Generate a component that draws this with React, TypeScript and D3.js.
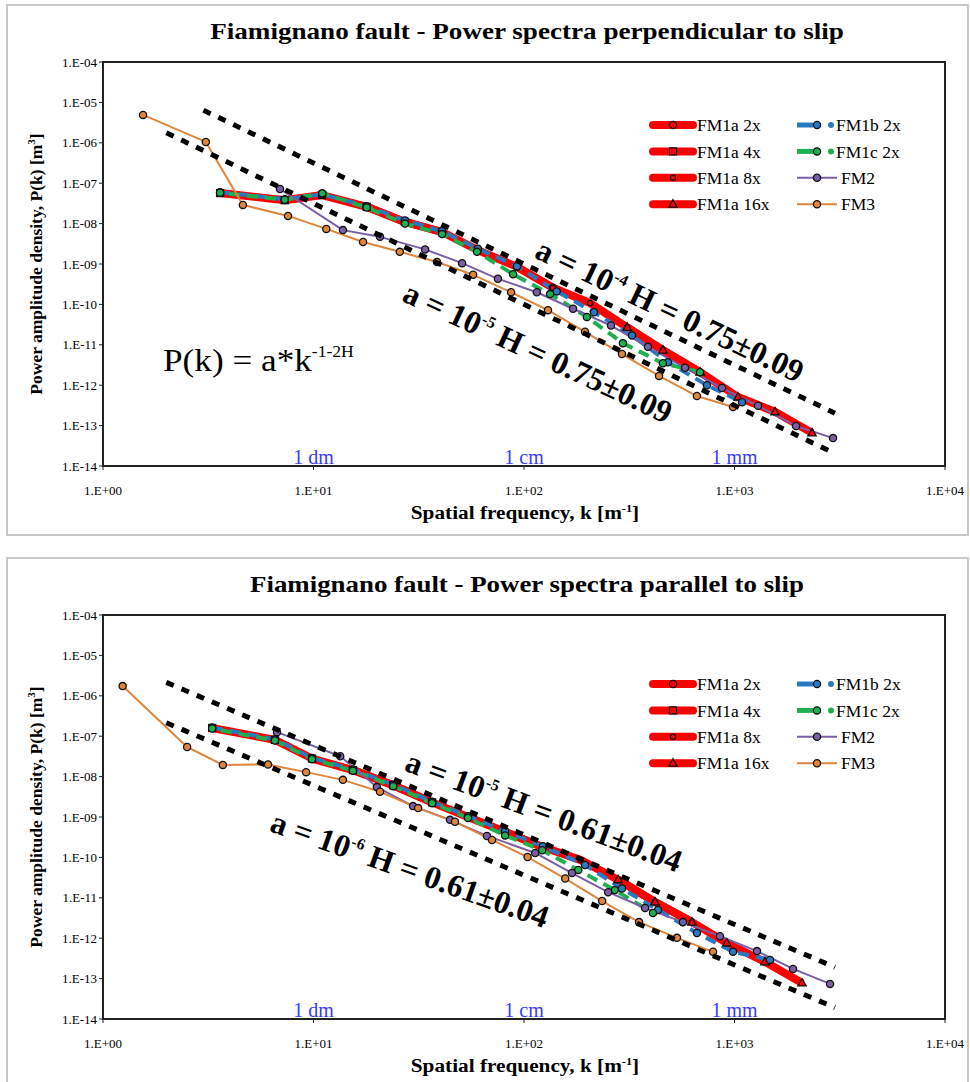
import React from 'react'
import * as d3 from 'd3'

// ---- perpendicular to slip ----
const perpFM1a4xK = [3.6, 7.3, 11.0, 17.9, 27.2, 40.8]
const perpFM1a4xP = [5.7e-8, 3.8e-8, 5.1e-8, 2.6e-8, 1.1e-8, 6.2e-9]
const perpFM1a2xK = [17.9, 27.2, 40.8, 60.4, 92.6, 137]
const perpFM1a2xP = [2.6e-8, 1.1e-8, 6.2e-9, 2.2e-9, 8.5e-10, 2.6e-10]
const perpFM1a8xK = [92.6, 137, 206, 309, 457, 686]
const perpFM1a8xP = [8.5e-10, 2.6e-10, 1.08e-10, 2.7e-11, 7.4e-12, 2.1e-12]
const perpFM1a16xK = [309, 457, 686, 1040, 1557, 2335]
const perpFM1a16xP = [2.7e-11, 7.4e-12, 2.1e-12, 5.1e-13, 2.2e-13, 6.6e-14]
const perpFM1bK = [3.6, 7.3, 11.0, 17.9, 27.2, 40.8, 60.4, 92.6, 143, 215, 326, 483, 740, 1086]
const perpFM1bP = [6.0e-8, 4.0e-8, 5.3e-8, 2.7e-8, 1.2e-8, 6.5e-9, 2.4e-9, 8.8e-10, 2.1e-10, 6.4e-11, 1.7e-11, 3.7e-12, 1.0e-12, 3.8e-13]
const perpFM1cK = [3.6, 7.3, 11.0, 17.9, 27.2, 40.8, 59.8, 88.7, 133, 199, 295, 457, 686]
const perpFM1cP = [5.8e-8, 3.9e-8, 5.6e-8, 2.5e-8, 1.0e-8, 5.5e-9, 2.0e-9, 5.6e-10, 1.8e-10, 4.9e-11, 1.1e-11, 3.5e-12, 2.1e-12]
const perpFM2K = [6.93, 13.8, 20.7, 33.9, 50.8, 75.2, 115, 171, 259, 388, 582, 872, 1294, 1961, 2938]
const perpFM2P = [7.2e-8, 6.9e-9, 4.7e-9, 2.3e-9, 1.05e-9, 4.3e-10, 2.0e-10, 7.8e-11, 3.0e-11, 8.9e-12, 2.7e-12, 8.5e-13, 3.1e-13, 9.8e-14, 4.9e-14]
const perpFM3K = [1.55, 3.08, 4.62, 7.57, 11.5, 17.2, 25.7, 38.6, 57.3, 86.8, 130, 195, 292, 438, 663, 984]
const perpFM3P = [4.9e-6, 1.05e-6, 2.9e-8, 1.55e-8, 7.4e-9, 3.5e-9, 2.0e-9, 1.12e-9, 5.4e-10, 2.0e-10, 7.2e-11, 2.1e-11, 5.9e-12, 1.7e-12, 5.4e-13, 2.9e-13]

// ---- parallel to slip ----
const parFM1a4xK = [3.30, 6.56, 9.84, 15.4, 23.9, 36.6]
const parFM1a4xP = [1.6e-7, 8.1e-8, 2.8e-8, 1.45e-8, 6.1e-9, 2.3e-9]
const parFM1a2xK = [15.4, 23.9, 36.6, 54.2, 81.3, 123]
const parFM1a2xP = [1.45e-8, 6.1e-9, 2.3e-9, 1.0e-9, 4.3e-10, 1.8e-10]
const parFM1a8xK = [81.3, 123, 185, 280, 419, 628]
const parFM1a8xP = [4.3e-10, 1.8e-10, 8.7e-11, 2.8e-11, 7.9e-12, 2.5e-12]
const parFM1a16xK = [280, 419, 628, 920, 1396, 2093]
const parFM1a16xP = [2.8e-11, 7.9e-12, 2.5e-12, 7.6e-13, 2.6e-13, 7.8e-14]
const parFM1bK = [3.30, 6.56, 9.84, 15.4, 23.9, 36.6, 54.2, 81.3, 123, 195, 292, 433, 663, 984, 1475]
const parFM1bP = [1.65e-7, 8.4e-8, 2.9e-8, 1.5e-8, 6.3e-9, 2.4e-9, 1.05e-9, 4.5e-10, 1.9e-10, 6.5e-11, 1.7e-11, 5.0e-12, 1.35e-12, 4.6e-13, 2.9e-13]
const parFM1cK = [3.30, 6.56, 9.84, 15.4, 23.9, 36.6, 54.2, 81.3, 122, 181, 270, 410]
const parFM1cP = [1.55e-7, 7.8e-8, 2.7e-8, 1.4e-8, 5.8e-9, 2.2e-9, 9.5e-10, 3.5e-10, 1.5e-10, 4.9e-11, 1.55e-11, 4.2e-12]
const parFM2K = [6.71, 13.4, 20.0, 29.7, 44.5, 66.7, 113, 169, 251, 376, 569, 853, 1279, 1897, 2844]
const parFM2P = [1.26e-7, 3.2e-8, 5.5e-9, 1.86e-9, 8.5e-10, 3.4e-10, 1.29e-10, 4.1e-11, 1.38e-11, 5.6e-12, 2.5e-12, 1.12e-12, 4.8e-13, 1.74e-13, 7.4e-14]
const parFM3K = [1.24, 2.51, 3.71, 6.08, 9.22, 13.8, 20.7, 31.4, 47.0, 70.5, 104, 157, 235, 352, 533, 791]
const parFM3P = [1.74e-6, 5.4e-8, 1.95e-8, 2.0e-8, 1.29e-8, 8.3e-9, 4.2e-9, 1.66e-9, 7.6e-10, 2.7e-10, 1.02e-10, 3.0e-11, 8.3e-12, 2.5e-12, 1.02e-12, 4.6e-13]

// fits P = a * k^(-1-2H): [a, H, kStart, kEnd]
const perpFits = [[1e-4, 0.75, 3, 3000], [1e-5, 0.75, 2, 3000]]
const parFits = [[1e-5, 0.61, 2, 3000], [1e-6, 0.61, 2, 3000]]

const xTicks = [1, 10, 100, 1000, 10000]
const xTickLabels = ['1.E+00', '1.E+01', '1.E+02', '1.E+03', '1.E+04']
const yTicks = [1e-4, 1e-5, 1e-6, 1e-7, 1e-8, 1e-9, 1e-10, 1e-11, 1e-12, 1e-13, 1e-14]
const yTickLabels = ['1.E-04', '1.E-05', '1.E-06', '1.E-07', '1.E-08', '1.E-09', '1.E-10', '1.E-11', '1.E-12', '1.E-13', '1.E-14']
const scaleLabels = [['1 dm', 10], ['1 cm', 100], ['1 mm', 1000]]

const RED = '#ff0000'
const BLUE = '#2a78c2'
const GREEN = '#1eb050'
const PURPLE = '#7a5fa6'
const ORANGE = '#e0863a'
const serif = { fontFamily: "'Liberation Serif', serif" }

const zip = (k, p) => k.map((v, i) => [v, p[i]])

const Marker = ({ shape, x, y, fill }) => {
    if (shape === 'square') return <rect x={x - 3.5} y={y - 3.5} width={7} height={7} fill={fill} stroke="#111" strokeWidth={1.3} />
    if (shape === 'triangle') return <path d={`M${x},${y - 4.5}L${x + 4.2},${y + 3}L${x - 4.2},${y + 3}Z`} fill={fill} stroke="#111" strokeWidth={1.3} />
    if (shape === 'small') return <circle cx={x} cy={y} r={2.6} fill={fill} stroke="#111" strokeWidth={1.2} />
    return <circle cx={x} cy={y} r={3.6} fill={fill} stroke="#111" strokeWidth={1.3} />
}

const Chart = ({ top, title, titleScale, legendTop, series, fits, labels }) => {
    const left = 103, right = 945
    const plotTop = top + 54, plotBottom = top + 458
    const x = d3.scaleLog().domain([1, 10000]).range([left, right])
    const y = d3.scaleLog().domain([1e-14, 1e-4]).range([plotBottom, plotTop])
    const line = d3.line().x(d => x(d[0])).y(d => y(d[1]))

    return (
        <g style={serif}>
            <rect x={7} y={top - 3} width={961} height={530} fill="#fff" stroke="#c8c8c8" strokeWidth={2} />
            <text transform={`translate(527,${top + 31}) scale(${titleScale},1)`} textAnchor="middle" fontWeight="bold" fontSize={24}>{title}</text>

            {/* axes */}
            {yTicks.map((t, i) => (
                <g key={i}>
                    <line x1={left - 4} x2={left} y1={y(t)} y2={y(t)} stroke="#222" strokeWidth={1} />
                    <text x={left - 6} y={y(t)} dy="0.35em" textAnchor="end" fontSize={13}>{yTickLabels[i]}</text>
                </g>
            ))}
            {xTicks.map((t, i) => (
                <g key={i}>
                    <line x1={x(t)} x2={x(t)} y1={plotBottom} y2={plotBottom + 4} stroke="#222" strokeWidth={1} />
                    <text x={x(t)} y={plotBottom + 29} textAnchor="middle" fontSize={13}>{xTickLabels[i]}</text>
                </g>
            ))}
            <text transform={`translate(36,${(plotTop + plotBottom) / 2}) rotate(-90)`} textAnchor="middle" dy="0.35em" fontWeight="bold" fontSize={17.5}>
                Power amplitude density, P(k) [m<tspan dy={-7} fontSize={11}>3</tspan><tspan dy={7}>]</tspan>
            </text>
            <text transform={`translate(525,${plotBottom + 53}) scale(1.12,1)`} textAnchor="middle" fontWeight="bold" fontSize={19}>
                Spatial frequency, k [m<tspan dy={-7} fontSize={11}>-1</tspan><tspan dy={7}>]</tspan>
            </text>

            {scaleLabels.map(([s, k]) => (
                <text key={s} x={x(k)} y={plotBottom - 2} textAnchor="middle" fontSize={20} fill="#3a3aff">{s}</text>
            ))}

            {/* data */}
            {series.map((s, i) => (
                <path key={i} d={line(s.data)} fill="none" stroke={s.color} strokeWidth={s.width} strokeDasharray={s.dash || null} strokeDashoffset={s.offset || 0} strokeLinejoin="round" />
            ))}
            {series.map((s, i) => s.data.map((d, j) => (
                <Marker key={i + '-' + j} shape={s.shape} x={x(d[0])} y={y(d[1])} fill={s.color} />
            )))}

            {/* power-law fits */}
            {fits.map(([a, H, k0, k1], i) => {
                const pts = d3.range(0, 41).map(n => {
                    const k = k0 * Math.pow(k1 / k0, n / 40)
                    return [k, a * Math.pow(k, -1 - 2 * H)]
                })
                return <path key={i} d={line(pts)} fill="none" stroke="#000" strokeWidth={5} strokeDasharray="8,8.5" />
            })}

            {labels.map((l, i) => (
                <text key={i} transform={`translate(${l.cx},${top + l.cy}) rotate(${l.angle})`} textAnchor="middle" dy="0.35em" fontWeight="bold" fontSize={32}>
                    a = 10<tspan dy={-13} fontSize={16}>{l.exp}</tspan><tspan dy={13}> H = {l.h}</tspan>
                </text>
            ))}

            {/* box */}
            <rect x={left} y={plotTop} width={right - left} height={plotBottom - plotTop} fill="none" stroke="#222" strokeWidth={2} />

            {/* legend */}
            {series.filter(s => s.legend).map((s, i) => {
                const col = s.legend[0], row = s.legend[1]
                const lx = col === 0 ? 653 : 797
                const ly = top + legendTop + row * 26.4
                const isDash = !!s.dash
                return (
                    <g key={i}>
                        {isDash ? (
                            <>
                                <line x1={lx} x2={lx + 16} y1={ly} y2={ly} stroke={s.color} strokeWidth={s.width + 1} />
                                <Marker shape="circle" x={lx + 20} y={ly} fill={s.color} />
                                <circle cx={lx + 34} cy={ly} r={3} fill={s.color} />
                            </>
                        ) : (
                            <>
                                <line x1={lx} x2={lx + 40} y1={ly} y2={ly} stroke={s.color} strokeWidth={s.width} strokeLinecap={s.width > 4 ? 'round' : 'butt'} />
                                <Marker shape={s.shape} x={lx + 20} y={ly} fill={s.color} />
                            </>
                        )}
                        <text x={lx + (isDash ? 39 : 44)} y={ly} dy="0.35em" fontSize={17.5}>{s.name}</text>
                    </g>
                )
            })}

            {top < 100 && (
                <text transform={`translate(163,${top + 363}) scale(1.1,1)`} fontSize={32}>
                    P(k) = a*k<tspan dy={-14} fontSize={16}>-1-2H</tspan>
                </text>
            )}
        </g>
    )
}

const makeSeries = (d) => [
    { name: 'FM1a 2x', data: zip(d.a2K, d.a2P), color: RED, width: 8, shape: 'circle', legend: [0, 0] },
    { name: 'FM1a 4x', data: zip(d.a4K, d.a4P), color: RED, width: 8, shape: 'square', legend: [0, 1] },
    { name: 'FM1a 8x', data: zip(d.a8K, d.a8P), color: RED, width: 8, shape: 'small', legend: [0, 2] },
    { name: 'FM1a 16x', data: zip(d.a16K, d.a16P), color: RED, width: 8, shape: 'triangle', legend: [0, 3] },
    { name: 'FM1b 2x', data: zip(d.bK, d.bP), color: BLUE, width: 4, dash: '11,7', shape: 'circle', legend: [1, 0] },
    { name: 'FM1c 2x', data: zip(d.cK, d.cP), color: GREEN, width: 4, dash: '11,7', offset: 9, shape: 'circle', legend: [1, 1] },
    { name: 'FM2', data: zip(d.m2K, d.m2P), color: PURPLE, width: 2, shape: 'circle', legend: [1, 2] },
    { name: 'FM3', data: zip(d.m3K, d.m3P), color: ORANGE, width: 2, shape: 'circle', legend: [1, 3] },
]

const perpSeries = makeSeries({
    a2K: perpFM1a2xK, a2P: perpFM1a2xP, a4K: perpFM1a4xK, a4P: perpFM1a4xP,
    a8K: perpFM1a8xK, a8P: perpFM1a8xP, a16K: perpFM1a16xK, a16P: perpFM1a16xP,
    bK: perpFM1bK, bP: perpFM1bP, cK: perpFM1cK, cP: perpFM1cP,
    m2K: perpFM2K, m2P: perpFM2P, m3K: perpFM3K, m3P: perpFM3P,
})
const parSeries = makeSeries({
    a2K: parFM1a2xK, a2P: parFM1a2xP, a4K: parFM1a4xK, a4P: parFM1a4xP,
    a8K: parFM1a8xK, a8P: parFM1a8xP, a16K: parFM1a16xK, a16P: parFM1a16xP,
    bK: parFM1bK, bP: parFM1bP, cK: parFM1cK, cP: parFM1cP,
    m2K: parFM2K, m2P: parFM2P, m3K: parFM3K, m3P: parFM3P,
})

const perpLabels = [
    { cx: 670, cy: 302, angle: 25.5, exp: '-4', h: '0.75±0.09' },
    { cx: 538, cy: 344, angle: 25, exp: '-5', h: '0.75±0.09' },
]
const parLabels = [
    { cx: 544, cy: 250, angle: 20.5, exp: '-5', h: '0.61±0.04' },
    { cx: 410, cy: 308, angle: 19.5, exp: '-6', h: '0.61±0.04' },
]

export default function App() {
    return (
        <svg width={970} height={1082} style={{ position: 'absolute', left: 0, top: 0, background: '#fff' }}>
            <Chart top={8} title="Fiamignano fault - Power spectra perpendicular to slip" titleScale={1.13} legendTop={117} series={perpSeries} fits={perpFits} labels={perpLabels} />
            <Chart top={561} title="Fiamignano fault - Power spectra parallel to slip" titleScale={1.12} legendTop={123} series={parSeries} fits={parFits} labels={parLabels} />
        </svg>
    )
}
